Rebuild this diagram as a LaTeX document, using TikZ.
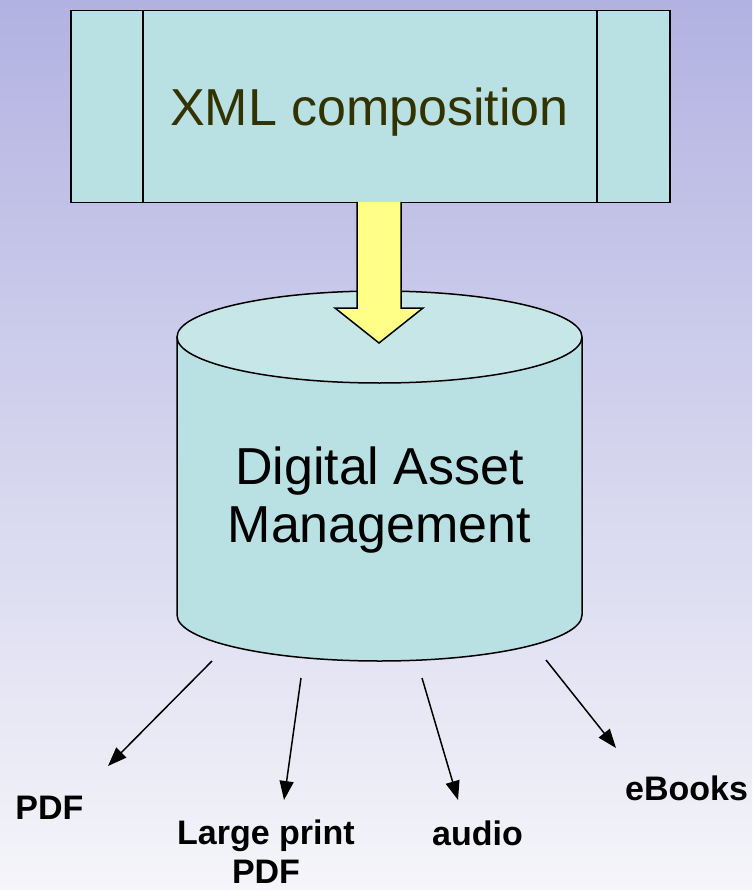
\documentclass[tikz,border=0pt]{standalone}
\usepackage{fontspec}
\setmainfont{Liberation Sans}
\usetikzlibrary{arrows.meta}
\definecolor{bgtop}{RGB}{178,178,226}
\definecolor{bgbot}{RGB}{245,245,250}
\definecolor{boxfill}{RGB}{185,224,227}
\definecolor{cyltop}{RGB}{198,230,232}
\definecolor{olive}{RGB}{51,51,0}
\definecolor{arrowfill}{RGB}{255,255,136}
\tikzset{
  outline/.style={draw=black, line width=1.5pt},
  bigtext/.style={font=\fontsize{52}{58}\selectfont, inner sep=0pt},
  outlabel/.style={font=\fontsize{34}{39}\selectfont\bfseries, inner sep=0pt, align=center},
  outarrow/.style={line width=1.5pt, -{Triangle[length=19pt,width=14pt]}}
}
\begin{document}
\begin{tikzpicture}[x=1pt, y=-1pt]
  % background
  \shade[top color=bgtop, bottom color=bgbot] (0,0) rectangle (752,890);
  \useasboundingbox (0,0) rectangle (752,890);

  % composition box with side bars
  \node[outline, fill=boxfill, minimum width=599pt, minimum height=192pt, inner sep=0pt,
        anchor=north west] (xml) at (70,10) {};
  \draw[line width=1.5pt] (143,10) -- (143,202);
  \draw[line width=1.5pt] (597,10) -- (597,202);
  \node[bigtext, text=olive, anchor=base] (xmltext) at (369.5,126) {XML composition};

  % database cylinder
  \fill[boxfill] (177,337) -- (177,615)
    arc[start angle=180, end angle=0, x radius=202.5, y radius=46] -- (582,337) -- cycle;
  \draw[line width=1.5pt] (177,337) -- (177,615)
    arc[start angle=180, end angle=0, x radius=202.5, y radius=46] -- (582,337);
  \draw[outline, fill=cyltop] (379.5,337) ellipse [x radius=202.5, y radius=46];
  \node[bigtext, align=center, anchor=base] (dam) at (379.5,542) {Digital Asset\\Management};

  % block arrow into the store
  \draw[outline, fill=arrowfill, line join=miter]
    (357,202) -- (357,308) -- (335,308) -- (379,343) -- (423,308) -- (401,308) -- (401,202);

  % output formats
  \coordinate (s1) at (212,661);
  \coordinate (s2) at (301,678);
  \coordinate (s3) at (422,678);
  \coordinate (s4) at (546,660);
  \coordinate (t1) at (108,766);
  \coordinate (t2) at (284,800);
  \coordinate (t3) at (458,800);
  \coordinate (t4) at (616,748);
  \draw[outarrow] (s1) -- (t1);
  \draw[outarrow] (s2) -- (t2);
  \draw[outarrow] (s3) -- (t3);
  \draw[outarrow] (s4) -- (t4);

  \node[outlabel, anchor=base] (pdf) at (49.5,819) {PDF};
  \node[outlabel, anchor=base] (large) at (266,883) {Large print\\PDF};
  \node[outlabel, anchor=base] (audio) at (477.5,845) {audio};
  \node[outlabel, anchor=base] (ebooks) at (686.5,800) {eBooks};
\end{tikzpicture}
\end{document}
